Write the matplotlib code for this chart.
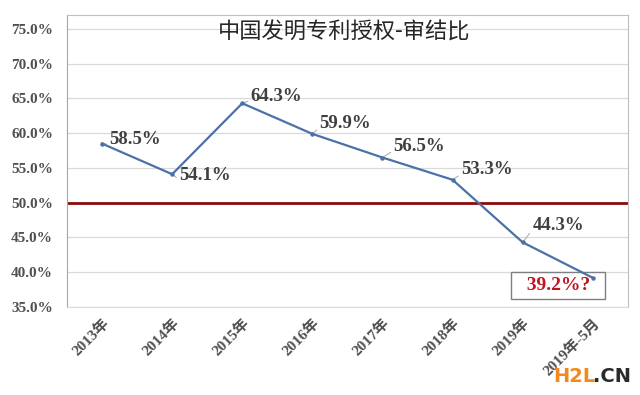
import matplotlib
matplotlib.use("Agg")
import matplotlib.pyplot as plt
from matplotlib.ticker import FuncFormatter, MultipleLocator

# 数据
categories = ["2013年", "2014年", "2015年", "2016年", "2017年", "2018年", "2019年", "2019年-5月"]
ratio = [58.5, 54.1, 64.3, 59.9, 56.5, 53.3, 44.3, 39.2]
label_text = ["58.5%", "54.1%", "64.3%", "59.9%", "56.5%", "53.3%", "44.3%", "39.2%?"]
# 标签偏移 (points)
label_offsets = [(5, -3.5), (5, -7), (6, -1), (5, 1.5), (8, 2), (6, 1), (7, 6)]
threshold = 50.0

SERIF = ["Liberation Serif", "Noto Sans CJK SC"]
LINE_BLUE = "#4A72A6"
DARK_RED = "#8B0A0A"
LABEL_GRAY = "#404040"
TICK_GRAY = "#505050"

fig = plt.figure(figsize=(6.4, 3.95), dpi=100)
ax = fig.add_axes([0.1047, 0.2228, 0.8763, 0.7392])

x = list(range(len(categories)))
ax.plot(x, ratio, color=LINE_BLUE, lw=1.6, marker="o", markersize=2.2, zorder=4)
ax.axhline(threshold, color=DARK_RED, lw=2.0, zorder=2)

ax.set_xlim(-0.5, len(categories) - 0.5)
ax.set_ylim(35, 77)
ax.yaxis.set_major_locator(MultipleLocator(5))
ax.yaxis.set_major_formatter(FuncFormatter(lambda v, p: f"{v:.1f}%" if v <= 75 else ""))
ax.grid(axis="y", color="#D9D9D9", lw=0.9)
ax.set_axisbelow(True)

for side in ["top", "right"]:
    ax.spines[side].set_color("#BFBFBF")
ax.spines["left"].set_color("#A6A6A6")
ax.spines["bottom"].set_color("#D9D9D9")
ax.tick_params(axis="y", length=0, pad=10)
ax.tick_params(axis="x", length=0, pad=7)

ax.set_xticks(x)
ax.set_xticklabels(categories, rotation=45, ha="right", rotation_mode="anchor",
                   family=SERIF, fontsize=11, fontweight="bold", color=TICK_GRAY)
for t in ax.get_yticklabels():
    t.set_family(SERIF)
    t.set_fontsize(11)
    t.set_fontweight("bold")
    t.set_color(TICK_GRAY)

# 数据标签
for i, (dx, dy) in enumerate(label_offsets):
    ax.annotate(label_text[i], (x[i], ratio[i]), xytext=(dx, dy), textcoords="offset points",
                ha="left", va="bottom", family=SERIF, fontsize=13.5, fontweight="bold",
                color=LABEL_GRAY,
                arrowprops=dict(arrowstyle="-", color="#A6A6A6", lw=0.7,
                                shrinkA=0, shrinkB=1, relpos=(0, 0.25)))

# 最后一个标签 (红色, 带框)
ax.annotate("  " + label_text[-1] + "  ", (x[-1], ratio[-1]), xytext=(-25, -5.5),
            textcoords="offset points", ha="center", va="center", family=SERIF,
            fontsize=14, fontweight="bold", color="#C0141E", zorder=3,
            bbox=dict(boxstyle="square,pad=0.27", fc="white", ec="#7F7F7F", lw=1.0))

ax.text(0.494, 0.94, "中国发明专利授权-审结比", transform=ax.transAxes,
        ha="center", va="center", fontsize=16, color="#262626",
        family=["Noto Sans CJK SC", "DejaVu Sans"])

# 水印
fig.text(0.864, 0.047, "H2L", ha="left", va="center", fontsize=14, fontweight="bold",
         color="#F08A1E", family="DejaVu Sans")
fig.text(0.926, 0.047, ".CN", ha="left", va="center", fontsize=14, fontweight="bold",
         color="#2B2B2B", family="DejaVu Sans")

fig.savefig("out.png", dpi=100)
